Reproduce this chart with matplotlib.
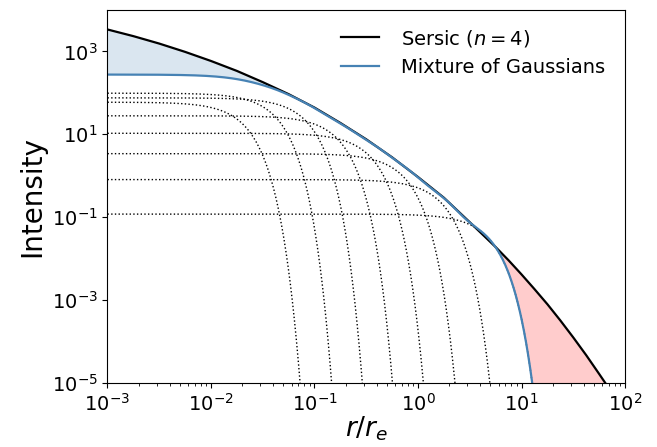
import numpy as np
import matplotlib
matplotlib.use('Agg')
import matplotlib.pyplot as plt
import matplotlib.ticker as mticker

# Sersic profile sampled along r/r_e (denser in the outer wing)
sersic_r = [1e-3, 1.78e-3, 3.16e-3, 5.62e-3, 1e-2, 1.78e-2, 3.16e-2, 5.62e-2,
            1e-1, 1.78e-1, 3.16e-1, 5.62e-1, 1e0, 1.78e0, 3.16e0, 5.62e0,
            7.5e0, 1e1, 1.33e1, 1.78e1, 2.37e1, 3.16e1, 4.22e1, 5.62e1,
            7.5e1, 1e2]
sersic_i = [3.39e3, 2.34e3, 1.55e3, 9.77e2, 5.89e2, 3.39e2, 1.82e2, 93.3,
            44.2, 18.8, 7.59, 2.79, 0.933, 0.295, 7.59e-2, 1.91e-2,
            9.12e-3, 4.17e-3, 1.86e-3, 7.94e-4, 3.24e-4, 1.26e-4, 4.68e-5, 1.66e-5,
            5.75e-6, 1.91e-6]

# Gaussian components: peak amplitude and width (in r/r_e)
comp_amp = [59.7, 98.4, 75.9, 28.0, 10.6, 3.42, 0.81, 0.119]
comp_sigma = [0.0130, 0.0258, 0.0515, 0.104, 0.214, 0.451, 1.04, 2.93]

r = np.logspace(-3, 2, 1000)
comps = [a * np.exp(-r**2 / (2 * s**2)) for a, s in zip(comp_amp, comp_sigma)]
mix = np.maximum(np.sum(comps, axis=0), 1e-8)

sr = np.array(sersic_r)
si = np.array(sersic_i)

fig = plt.figure(figsize=(6.57, 4.47), dpi=100)
ax = fig.add_axes([0.1636, 0.1432, 0.7877, 0.8344])

# shaded residuals: core (blue) and wings (red)
lo = sr <= 1
rl = r <= 1
ax.fill(np.concatenate([sr[lo], r[rl][::-1]]),
        np.concatenate([si[lo], mix[rl][::-1]]),
        color='steelblue', alpha=0.2, lw=0)
hi = sr >= 1
rh = r >= 1
ax.fill(np.concatenate([sr[hi], r[rh][::-1]]),
        np.concatenate([si[hi], mix[rh][::-1]]),
        color='red', alpha=0.2, lw=0)

for c in comps:
    ax.plot(r, np.maximum(c, 1e-8), 'k:', lw=1)

ax.plot(sr, si, color='k', lw=1.6, label='Sersic ($n = 4$)')
ax.plot(r, mix, color='steelblue', lw=1.6, label='Mixture of Gaussians')

ax.set_xscale('log')
ax.set_yscale('log')
ax.set_xlim(1e-3, 1e2)
ax.set_ylim(1e-5, 1e4)
ax.set_yticks([1e-5, 1e-3, 1e-1, 1e1, 1e3])
ax.yaxis.set_minor_locator(mticker.NullLocator())
ax.tick_params(labelsize=14)
ax.set_xlabel('$r/r_e$', fontsize=19, labelpad=0)
ax.set_ylabel('Intensity', fontsize=20)
ax.legend(loc='upper right', fontsize=14, frameon=False, handletextpad=1.1,
          bbox_to_anchor=(0.995, 1.0))

fig.savefig('out.png', dpi=100)
